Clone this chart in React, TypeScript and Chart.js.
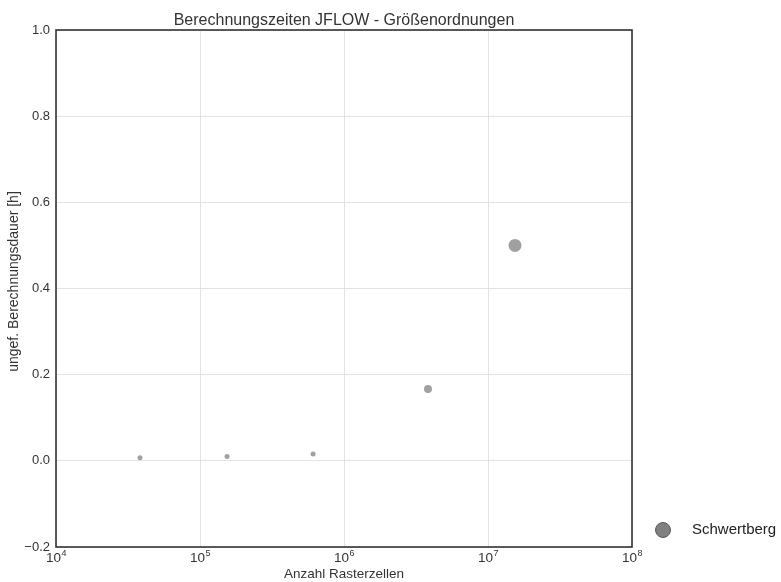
import React, { useEffect, useRef } from 'react';
import { Chart, registerables } from 'chart.js';

Chart.register(...registerables);

const seriesName = 'Schwertberg';
const rasterCells = [38300, 154000, 610000, 3830000, 15400000];
const hours = [0.007, 0.01, 0.016, 0.167, 0.5];
const markerRadii = [2.5, 2.5, 2.5, 4, 6.5];
const yTickValues = [-0.2, 0, 0.2, 0.4, 0.6, 0.8, 1.0];
const xTickExponents = [4, 5, 6, 7, 8];
const chartTitle = 'Berechnungszeiten JFLOW - Größenordnungen';
const xAxisTitle = 'Anzahl Rasterzellen';
const yAxisTitle = 'ungef. Berechnungsdauer [h]';

const FONT = '"Liberation Sans", Arial, sans-serif';
const TEXT = '#333333';

const overlayPlugin = {
  id: 'overlay',
  afterDraw(chart: any) {
    const ctx = chart.ctx as CanvasRenderingContext2D;
    const ca = chart.chartArea;
    const xs = chart.scales.x;
    const ys = chart.scales.y;
    ctx.save();
    // frame
    ctx.strokeStyle = '#333333';
    ctx.lineWidth = 1.6;
    ctx.strokeRect(ca.left, ca.top, ca.right - ca.left, ca.bottom - ca.top);

    ctx.fillStyle = TEXT;
    // y ticks
    ctx.font = `13px ${FONT}`;
    ctx.textAlign = 'right';
    ctx.textBaseline = 'middle';
    yTickValues.forEach((v) => {
      const y = ys.getPixelForValue(v);
      const label = v < 0 ? '\u2212' + Math.abs(v).toFixed(1) : v.toFixed(1);
      ctx.fillText(label, ca.left - 6, y);
    });
    // x ticks 10^n
    xTickExponents.forEach((e) => {
      const x = xs.getPixelForValue(Math.pow(10, e));
      ctx.font = `13.5px ${FONT}`;
      const w1 = ctx.measureText('10').width;
      ctx.font = `9px ${FONT}`;
      const w2 = ctx.measureText(String(e)).width;
      const start = x - (w1 + w2) / 2;
      ctx.textAlign = 'left';
      ctx.textBaseline = 'top';
      ctx.font = `13.5px ${FONT}`;
      ctx.fillText('10', start, ca.bottom + 5);
      ctx.font = `9px ${FONT}`;
      ctx.fillText(String(e), start + w1 + 0.5, ca.bottom + 2);
    });
    // title
    const cx = (ca.left + ca.right) / 2;
    ctx.font = `16px ${FONT}`;
    ctx.textAlign = 'center';
    ctx.textBaseline = 'alphabetic';
    ctx.fillText(chartTitle, cx, ca.top - 5);
    // x axis title
    ctx.font = `13.5px ${FONT}`;
    ctx.textBaseline = 'middle';
    ctx.fillText(xAxisTitle, cx, ca.bottom + 27);
    // y axis title
    ctx.save();
    ctx.translate(14, (ca.top + ca.bottom) / 2 - 7);
    ctx.rotate(-Math.PI / 2);
    ctx.font = `14px ${FONT}`;
    ctx.textAlign = 'center';
    ctx.textBaseline = 'middle';
    ctx.fillText(yAxisTitle, 0, 0);
    ctx.restore();
    // legend
    const lx = ca.right + 31;
    const ly = ca.bottom - 17;
    ctx.beginPath();
    ctx.arc(lx, ly, 7.5, 0, Math.PI * 2);
    ctx.fillStyle = '#808080';
    ctx.fill();
    ctx.strokeStyle = '#5a5a5a';
    ctx.lineWidth = 1;
    ctx.stroke();
    ctx.fillStyle = '#222222';
    ctx.font = `15px ${FONT}`;
    ctx.textAlign = 'left';
    ctx.textBaseline = 'middle';
    ctx.fillText(seriesName, ca.right + 60, ly);
    ctx.restore();
  },
};

export default function App() {
  const ref = useRef<HTMLCanvasElement | null>(null);
  useEffect(() => {
    if (!ref.current) return;
    const chart = new Chart(ref.current, {
      type: 'scatter',
      data: {
        datasets: [
          {
            label: seriesName,
            data: rasterCells.map((x, i) => ({ x, y: hours[i] })),
            pointRadius: markerRadii,
            pointBackgroundColor: 'rgba(150,150,150,0.9)',
            pointBorderColor: 'rgba(150,150,150,0.9)',
            pointBorderWidth: 0,
          },
        ],
      },
      options: {
        responsive: false,
        animation: false,
        layout: { padding: { left: 56, right: 149, top: 30, bottom: 35 } },
        plugins: {
          legend: { display: false },
          title: { display: false },
          tooltip: { enabled: false },
        },
        scales: {
          x: {
            type: 'logarithmic',
            min: 1e4,
            max: 1e8,
            afterBuildTicks: (scale: any) => {
              scale.ticks = xTickExponents.map((e) => ({ value: Math.pow(10, e) }));
            },
            ticks: { display: false },
            grid: { color: '#e3e3e3', lineWidth: 1, drawTicks: false },
            border: { display: false },
          },
          y: {
            min: -0.2,
            max: 1.0,
            afterBuildTicks: (scale: any) => {
              scale.ticks = yTickValues.map((v) => ({ value: v }));
            },
            ticks: { display: false },
            grid: { color: '#e3e3e3', lineWidth: 1, drawTicks: false },
            border: { display: false },
          },
        },
      },
      plugins: [overlayPlugin],
    });
    return () => chart.destroy();
  }, []);
  return (
    <div style={{ position: 'fixed', left: 0, top: 0, width: 781, height: 582, background: '#fff' }}>
      <canvas ref={ref} width={781} height={582} style={{ display: 'block' }} />
    </div>
  );
}
